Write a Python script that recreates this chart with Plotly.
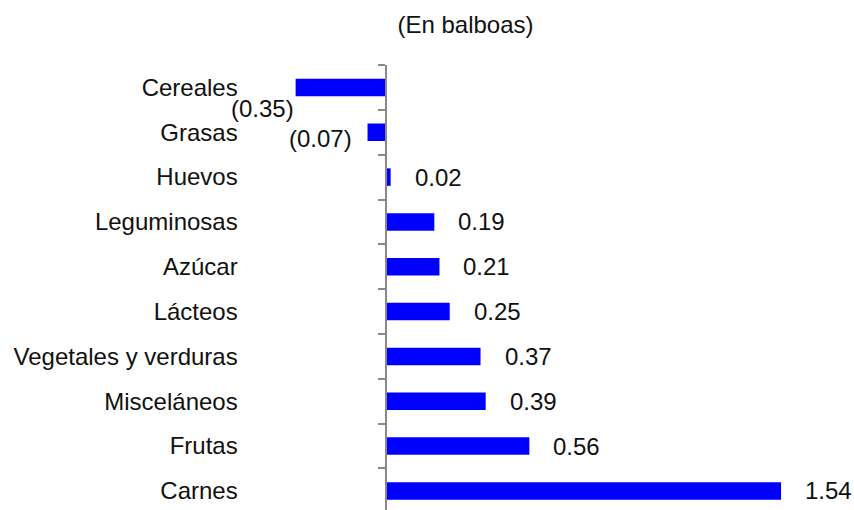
"""
Variación del gasto por grupo de alimentos (en balboas)
"""

import plotly.graph_objects as go

# Datos
categorias = ['Cereales', 'Grasas', 'Huevos', 'Leguminosas', 'Azúcar', 'Lácteos',
              'Vegetales y verduras', 'Misceláneos', 'Frutas', 'Carnes']
valores = [-0.35, -0.07, 0.02, 0.19, 0.21, 0.25, 0.37, 0.39, 0.56, 1.54]
titulo = '(En balboas)'

# Estilo
AZUL = '#0000FF'
GRIS = '#898989'
FUENTE = 'Liberation Sans, Arial, sans-serif'
TAM = 24
TEXTO = '#111111'

# Desplazamientos (px) de las etiquetas negativas, como en el original
desp_neg = {'Cereales': (0, -21), 'Grasas': (-14, -6)}


def etiqueta(v):
    return f'({abs(v):.2f})' if v < 0 else f'{v:.2f}'


fig = go.Figure()

fig.add_trace(go.Bar(
    x=valores,
    y=categorias,
    orientation='h',
    width=0.39,
    marker=dict(color=AZUL, line=dict(width=0)),
    hovertemplate='<b>%{y}</b><br>%{x:.2f}<extra></extra>'
))

# Etiquetas de datos
for cat, v in zip(categorias, valores):
    if v >= 0:
        fig.add_annotation(x=v, y=cat, text=etiqueta(v), showarrow=False,
                           xanchor='left', yanchor='middle', xshift=22)
    else:
        dx, dy = desp_neg.get(cat, (0, 0))
        fig.add_annotation(x=v, y=cat, text=etiqueta(v), showarrow=False,
                           xanchor='right', yanchor='middle', xshift=dx, yshift=dy)

fig.update_layout(
    template='none',
    width=854,
    height=510,
    margin=dict(l=0, r=0, t=65, b=0, pad=0),
    paper_bgcolor='white',
    plot_bgcolor='white',
    font=dict(family=FUENTE, size=TAM, color=TEXTO),
    showlegend=False,
    title=dict(text=titulo, x=465.5 / 854, xanchor='center',
               y=1 - 25 / 510, yanchor='middle',
               font=dict(family=FUENTE, size=TAM, color=TEXTO)),
    xaxis=dict(visible=False, range=[-1.501, 1.824], showgrid=False,
               zeroline=False, automargin=False),
    yaxis=dict(
        type='category',
        categoryorder='array',
        categoryarray=categorias,
        range=[9.426, -0.5],
        anchor='free',
        position=385.5 / 854,
        showline=True,
        linecolor=GRIS,
        linewidth=2,
        ticks='outside',
        tickson='boundaries',
        ticklen=7,
        tickwidth=1.5,
        tickcolor=GRIS,
        ticklabelstandoff=142,
        showgrid=False,
        zeroline=False,
        automargin=False,
        tickfont=dict(family=FUENTE, size=TAM, color=TEXTO),
    ),
)

fig.write_html("out.html",
               config={'displayModeBar': False},
               post_script="document.body.style.margin='0';document.body.style.padding='0';")
